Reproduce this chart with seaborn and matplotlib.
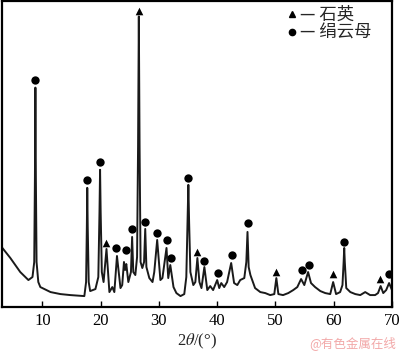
import numpy as np
import pandas as pd
import matplotlib
matplotlib.use("Agg")
import matplotlib.pyplot as plt
import seaborn as sns
from matplotlib.lines import Line2D

# XRD trace (2theta in degrees, intensity in arbitrary units)
two_theta = [3.0, 4.5, 6.2, 7.6, 8.3, 8.6, 8.72, 8.8, 8.88, 9.0, 9.3, 9.65,
             11.4, 13.1, 14.8, 17.2, 17.5, 17.63, 17.7, 17.78, 17.95, 18.2,
             19.1, 19.6, 19.8, 19.9, 20.0, 20.2, 20.5, 21.0, 21.5, 22.0, 22.35,
             22.8, 23.4, 23.7, 24.0, 24.2, 24.4, 24.75, 25.2, 25.4, 25.6, 25.95,
             26.25, 26.42, 26.55, 26.68, 26.85, 27.15, 27.45, 27.65, 27.85, 28.35,
             28.9, 29.2, 29.7, 30.25, 30.6, 31.3, 31.6, 31.95, 32.5, 33.0, 33.7,
             34.35, 34.7, 34.92, 35.05, 35.18, 35.4, 35.9, 36.25, 36.6, 36.95,
             37.3, 37.8, 38.3, 38.8, 39.3, 40.0, 40.35, 40.7, 41.2, 41.7, 42.4,
             42.9, 43.45, 43.95, 44.65, 45.0, 45.2, 45.4, 45.7, 46.0, 46.5, 47.4,
             48.25, 49.1, 49.8, 50.15, 50.5, 51.3, 52.2, 53.05, 53.75, 54.4, 54.95,
             55.6, 56.1, 56.8, 57.7, 58.55, 59.4, 59.9, 60.4, 61.1, 61.5, 61.7,
             61.8, 61.9, 62.15, 62.85, 63.7, 64.55, 65.4, 66.25, 67.1, 67.6, 68.05,
             68.5, 69.0, 69.5, 70.0]
intensity = [60, 49, 35, 27, 30, 45, 130, 219, 130, 45, 25, 20,
             15, 13, 12, 11, 25, 80, 119, 80, 25, 16,
             18, 30, 95, 137, 95, 35, 25, 58, 15, 20, 15,
             51, 19, 22, 45, 37, 43, 25, 35, 70, 35, 32,
             50, 160, 290, 160, 45, 39, 45, 78, 40, 29,
             25, 35, 67, 27, 29, 59, 29, 42, 20, 14, 11,
             13, 30, 85, 122, 85, 35, 22, 25, 49, 25,
             19, 40, 17, 21, 17, 27, 19, 24, 20, 25, 44,
             24, 22, 27, 29, 45, 75, 40, 32, 27, 19, 15,
             14, 12, 13, 29, 13, 12, 14, 17, 20, 28, 22,
             35, 24, 20, 16, 14, 13, 25, 13, 15, 22, 45,
             59, 45, 19, 15, 13, 12, 15, 12, 12, 14, 21,
             14, 17, 24, 17]

# phase markers (peak position, marker height)
quartz_pos = [21.0, 26.55, 36.6, 50.15, 59.9, 68.0]
quartz_h = [64, 295, 55, 35, 33, 28]
sericite_pos = [8.8, 17.7, 19.95, 22.7, 24.4, 25.45, 27.65, 29.7, 31.3, 32.1,
                35.05, 37.8, 40.2, 42.6, 45.35, 54.6, 55.8, 61.8, 69.5]
sericite_h = [227, 127, 145, 59, 57, 78, 85, 74, 67, 49,
              129, 46, 34, 52, 84, 37, 42, 65, 33]

xticks = [10, 20, 30, 40, 50, 60, 70]
legend_labels = ["— 石英", "— 绢云母"]

sns.set_style("ticks")
plt.rcParams['font.family'] = ['Liberation Serif', 'Noto Sans CJK SC', 'DejaVu Sans']
plt.rcParams['mathtext.fontset'] = 'stix'

fig = plt.figure(figsize=(4.0, 3.53), dpi=100)
ax = fig.add_axes([0.004, 0.130, 0.976, 0.866])

df = pd.DataFrame({"x": two_theta, "y": intensity})
sns.lineplot(data=df, x="x", y="y", ax=ax, color="#1a1a1a", linewidth=1.4,
             sort=False, estimator=None)
sns.scatterplot(x=quartz_pos, y=quartz_h, ax=ax, marker="^", s=30, color="black",
                edgecolor="black", linewidth=0)
sns.scatterplot(x=sericite_pos, y=sericite_h, ax=ax, marker="o", s=36, color="black",
                edgecolor="black", linewidth=0)

ax.set_xlim(3, 70)
ax.set_ylim(0, 305)
ax.set_xticks(xticks)
ax.set_xticklabels([str(t) for t in xticks], fontsize=12)
ax.set_yticks([])
ax.set_ylabel("")
ax.set_xlabel(r"2$\theta$/(°)", fontsize=12, labelpad=2)
ax.tick_params(axis='x', direction='in', length=4, width=1, pad=4, colors='black')
for sp in ax.spines.values():
    sp.set_visible(True)
    sp.set_linewidth(1.6)
    sp.set_color('black')

handles = [Line2D([], [], marker="^", color="black", linestyle="none", markersize=4.5),
           Line2D([], [], marker="o", color="black", linestyle="none", markersize=4.5)]
leg = ax.legend(handles, legend_labels, loc="upper right", frameon=False,
                bbox_to_anchor=(0.975, 1.02), handlelength=0.5, handletextpad=0.25,
                labelspacing=0.0, borderaxespad=0.2,
                prop={'family': ['Noto Sans CJK SC'], 'size': 12.5})

fig.text(0.99, 0.028, "@有色金属在线", ha="right", va="center", fontsize=9,
         color="#f2a8a8", family=['Noto Sans CJK SC'])

fig.savefig("out.png", dpi=100)
